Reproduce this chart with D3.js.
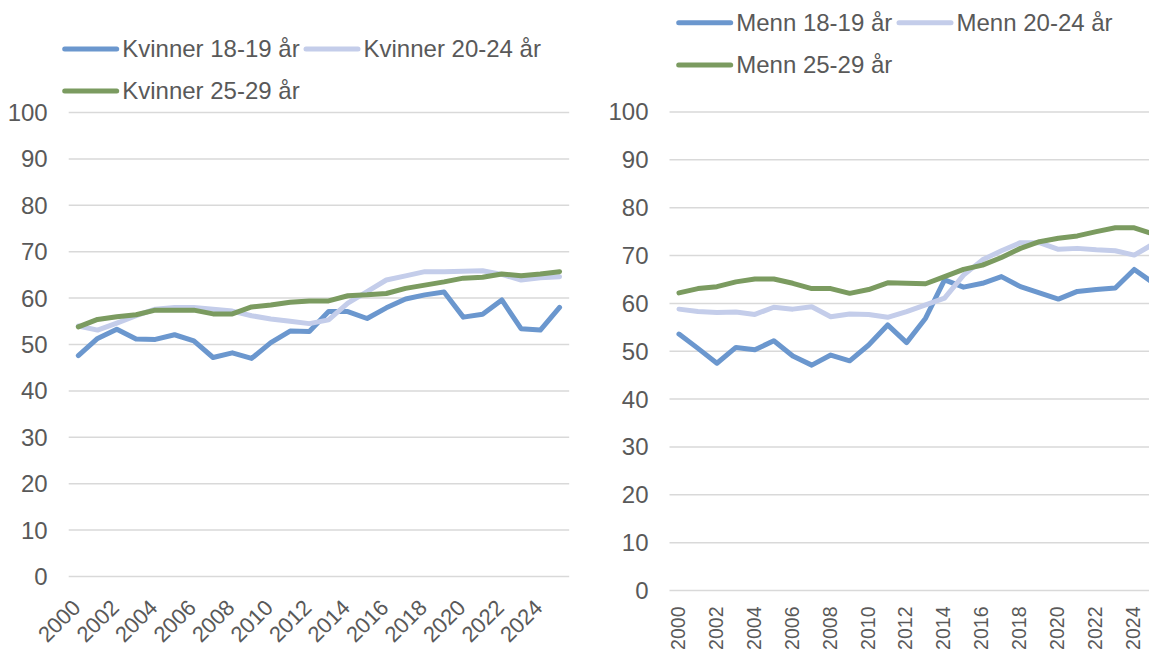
<!DOCTYPE html>
<meta charset="UTF-8">
<style>
body {
  margin: 0;
  background: #fff;
}
svg {
  display: block;
  font-family: "Liberation Sans", Arial, sans-serif;
}
.grid line {
  stroke: #d9d9d9;
  stroke-width: 1.5px;
}
.tick-label {
  fill: #595959;
}
.series {
  fill: none;
  stroke-width: 5px;
  stroke-linejoin: round;
  stroke-linecap: round;
}
</style>
<body>
<script src="https://d3js.org/d3.v7.min.js"></script>
<script type="text/javascript">

// categories (years)
var years = [2000, 2001, 2002, 2003, 2004, 2005, 2006, 2007, 2008, 2009, 2010, 2011, 2012,
             2013, 2014, 2015, 2016, 2017, 2018, 2019, 2020, 2021, 2022, 2023, 2024, 2025];
var yTicks = [0, 10, 20, 30, 40, 50, 60, 70, 80, 90, 100];
var xTickYears = [2000, 2002, 2004, 2006, 2008, 2010, 2012, 2014, 2016, 2018, 2020, 2022, 2024];

// women
var kvinner1819 = [47.6, 51.3, 53.3, 51.2, 51.1, 52.1, 50.8, 47.2, 48.2, 47.0, 50.4, 52.9, 52.8,
                   57.1, 57.1, 55.6, 57.9, 59.8, 60.7, 61.3, 55.9, 56.5, 59.6, 53.4, 53.1, 58.0];
var kvinner2024 = [54.0, 53.1, 54.6, 56.2, 57.6, 58.0, 58.0, 57.6, 57.2, 56.2, 55.5, 55.0, 54.5,
                   55.3, 58.9, 61.4, 63.9, 64.8, 65.7, 65.7, 65.8, 65.9, 65.1, 63.9, 64.4, 64.6];
var kvinner2529 = [53.8, 55.4, 56.0, 56.4, 57.4, 57.4, 57.4, 56.6, 56.6, 58.1, 58.5, 59.1, 59.4,
                   59.4, 60.5, 60.7, 61.0, 62.1, 62.8, 63.5, 64.3, 64.5, 65.2, 64.8, 65.2, 65.7];

// men
var menn1819 = [53.6, 50.6, 47.5, 50.8, 50.3, 52.2, 49.0, 47.1, 49.2, 48.0, 51.3, 55.5, 51.8,
                56.9, 64.9, 63.4, 64.2, 65.6, 63.5, 62.2, 60.9, 62.5, 62.9, 63.2, 67.1, 64.3];
var menn2024 = [58.8, 58.3, 58.1, 58.2, 57.7, 59.2, 58.8, 59.3, 57.2, 57.8, 57.7, 57.1, 58.3,
                59.7, 61.1, 65.9, 69.1, 71.0, 72.7, 72.7, 71.3, 71.5, 71.2, 71.0, 70.1, 72.4];
var menn2529 = [62.2, 63.1, 63.5, 64.5, 65.1, 65.1, 64.2, 63.1, 63.1, 62.1, 62.9, 64.3, 64.2,
                64.1, 65.6, 67.1, 68.0, 69.6, 71.5, 72.9, 73.6, 74.1, 75.0, 75.8, 75.8, 74.5];

var colors = ["#6b97ce", "#c4cdea", "#7b9b60"];

var svg = d3.select("body").append("svg")
    .attr("width", 1149)
    .attr("height", 659);

// left panel (women)
drawPanel({
  left: 68.7, right: 569.2, top: 112.5, bottom: 576.5,
  legendX: 62.7, legendY: [49, 91], legendCol2: 304,
  labelRot: -45, labelSize: 22,
  names: ["Kvinner 18-19 år", "Kvinner 20-24 år", "Kvinner 25-29 år"],
  series: [kvinner1819, kvinner2024, kvinner2529]
});

// right panel (men), runs off the right edge like the original
drawPanel({
  left: 669.5, right: 1162.7, top: 112, bottom: 590.5,
  legendX: 676.7, legendY: [22.7, 65], legendCol2: 897,
  labelRot: -90, labelSize: 19.5,
  names: ["Menn 18-19 år", "Menn 20-24 år", "Menn 25-29 år"],
  series: [menn1819, menn2024, menn2529]
});

function drawPanel(p) {
  var x = d3.scaleBand().domain(years).range([p.left, p.right]).padding(0);
  var y = d3.scaleLinear().domain([0, 100]).range([p.bottom, p.top]);
  var cx = function(yr) { return x(yr) + x.bandwidth() / 2; };

  var g = svg.append("g");

  // gridlines
  g.append("g").attr("class", "grid")
    .selectAll("line")
    .data(yTicks)
    .enter().append("line")
      .attr("x1", p.left)
      .attr("x2", p.right)
      .attr("y1", function(d) { return y(d); })
      .attr("y2", function(d) { return y(d); });

  // y labels
  g.selectAll("text.ylab")
    .data(yTicks)
    .enter().append("text")
      .attr("class", "tick-label ylab")
      .attr("x", p.left - 21)
      .attr("y", function(d) { return y(d); })
      .attr("dy", "0.35em")
      .attr("text-anchor", "end")
      .style("font-size", "24px")
      .text(function(d) { return d; });

  // x labels
  g.selectAll("text.xlab")
    .data(xTickYears)
    .enter().append("text")
      .attr("class", "tick-label xlab")
      .attr("text-anchor", "end")
      .style("font-size", p.labelSize + "px")
      .attr("dy", p.labelRot == -90 ? "0.35em" : 0)
      .attr("transform", function(d) {
        if (p.labelRot == -90) {
          return "translate(" + (cx(d) - 1) + "," + (p.bottom + 16) + ") rotate(-90)";
        }
        return "translate(" + (cx(d) + 3.5) + "," + (p.bottom + 32.5) + ") rotate(-45)";
      })
      .text(function(d) { return d; });

  // lines
  var line = d3.line()
    .x(function(d, i) { return cx(years[i]); })
    .y(function(d) { return y(d); });

  p.series.forEach(function(s, i) {
    g.append("path")
      .attr("class", "series")
      .attr("d", line(s))
      .style("stroke", colors[i]);
  });

  // legend
  var items = [
    {x: p.legendX, y: p.legendY[0]},
    {x: p.legendCol2, y: p.legendY[0]},
    {x: p.legendX, y: p.legendY[1]}
  ];
  items.forEach(function(it, i) {
    g.append("line")
      .attr("x1", it.x + 2)
      .attr("x2", it.x + 54)
      .attr("y1", it.y)
      .attr("y2", it.y)
      .style("stroke", colors[i])
      .style("stroke-width", 5)
      .style("stroke-linecap", "round");
    g.append("text")
      .attr("class", "tick-label")
      .attr("x", it.x + 59.5)
      .attr("y", it.y)
      .attr("dy", "0.35em")
      .style("font-size", "24px")
      .text(p.names[i]);
  });
}

</script>
</body>
